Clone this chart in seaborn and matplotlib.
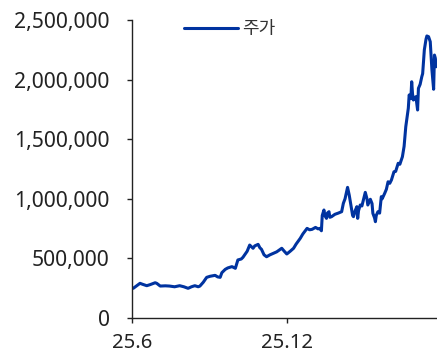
import matplotlib
matplotlib.use("Agg")
import matplotlib.pyplot as plt
from matplotlib.ticker import FuncFormatter
import seaborn as sns
import pandas as pd

dates = ["2025-06-02","2025-06-05","2025-06-10","2025-06-13","2025-06-18","2025-06-22","2025-06-28","2025-06-30",
         "2025-07-04","2025-07-10","2025-07-15","2025-07-21","2025-07-27","2025-08-01","2025-08-06","2025-08-10",
         "2025-08-14","2025-08-18","2025-08-20","2025-08-24","2025-08-28","2025-09-01","2025-09-07","2025-09-10",
         "2025-09-13","2025-09-15","2025-09-19","2025-09-22","2025-09-27","2025-10-01","2025-10-04","2025-10-08",
         "2025-10-10","2025-10-15","2025-10-18","2025-10-22","2025-10-24","2025-10-28","2025-10-30","2025-11-01",
         "2025-11-04","2025-11-07","2025-11-11","2025-11-15","2025-11-19","2025-11-25","2025-11-28","2025-12-01",
         "2025-12-05","2025-12-09","2025-12-12","2025-12-17","2025-12-20","2025-12-25","2025-12-28","2025-12-31",
         "2026-01-04","2026-01-07","2026-01-09","2026-01-11","2026-01-12","2026-01-14","2026-01-15","2026-01-17",
         "2026-01-18","2026-01-20","2026-01-21","2026-01-23","2026-01-27","2026-01-31","2026-02-04","2026-02-06",
         "2026-02-08","2026-02-11","2026-02-13","2026-02-16","2026-02-17","2026-02-18","2026-02-20","2026-02-22",
         "2026-02-23","2026-02-24","2026-02-26","2026-02-28","2026-03-04","2026-03-06","2026-03-07","2026-03-10",
         "2026-03-12","2026-03-13","2026-03-15","2026-03-16","2026-03-17","2026-03-19","2026-03-21","2026-03-23",
         "2026-03-24","2026-03-27","2026-03-29","2026-03-31","2026-04-02","2026-04-04","2026-04-07","2026-04-09",
         "2026-04-12","2026-04-14","2026-04-17","2026-04-19","2026-04-21","2026-04-24","2026-04-25","2026-04-27",
         "2026-04-28","2026-04-29","2026-04-30","2026-05-02","2026-05-03","2026-05-05","2026-05-06","2026-05-08",
         "2026-05-10","2026-05-11","2026-05-13","2026-05-15","2026-05-16","2026-05-18","2026-05-20","2026-05-21",
         "2026-05-22","2026-05-24","2026-05-25","2026-05-26","2026-05-27"]
prices = [249000,265000,291000,283000,271000,280000,296000,290000,
          268000,270000,268000,262000,271000,262000,249000,262000,
          271000,262000,268000,300000,341000,350000,358000,345000,
          341000,380000,408000,420000,431000,417000,487000,495000,
          509000,560000,612000,585000,605000,618000,590000,576000,
          530000,514000,530000,543000,555000,585000,560000,537000,
          560000,585000,620000,669000,705000,752000,740000,744000,
          760000,748000,752000,732000,860000,906000,860000,836000,
          880000,892000,845000,850000,870000,880000,892000,962000,
          1000000,1096000,1030000,906000,860000,850000,900000,934000,
          836000,900000,948000,940000,1054000,1000000,948000,996000,
          960000,878000,840000,808000,860000,892000,880000,1018000,
          1000000,1046000,1080000,1143000,1130000,1158000,1227000,1230000,
          1298000,1290000,1353000,1440000,1605000,1760000,1871000,1840000,
          1982000,1880000,1829000,1850000,1857000,1745000,1927000,1960000,
          2025000,2050000,2250000,2340000,2366000,2360000,2318000,2200000,
          2080000,1919000,2206000,2180000,2108000]
series_name = "주가"
x_ticks = ["2025-06-01", "2025-12-01"]
x_tick_labels = ["25.6", "25.12"]
y_ticks = [0, 500000, 1000000, 1500000, 2000000, 2500000]

df = pd.DataFrame({"date": pd.to_datetime(dates), "price": prices, "series": series_name})

sns.set_theme(style="white")
plt.rcParams["font.family"] = ["Noto Sans", "Noto Sans CJK KR", "DejaVu Sans"]

fig = plt.figure(figsize=(4.37, 3.51), dpi=100)
ax = fig.add_axes([0.303, 0.094, 0.697, 0.849])

sns.lineplot(data=df, x="date", y="price", hue="series", palette=["#0033a0"],
             linewidth=2.2, ax=ax)

ax.set_xlim(pd.Timestamp("2025-06-01"), pd.Timestamp("2026-05-28"))
ax.set_ylim(0, 2500000)
ax.set_xticks(pd.to_datetime(x_ticks))
ax.set_xticklabels(x_tick_labels)
ax.set_yticks(y_ticks)
ax.yaxis.set_major_formatter(FuncFormatter(lambda v, p: f"{int(v):,}"))
ax.set_xlabel("")
ax.set_ylabel("")

for s in ["top", "right"]:
    ax.spines[s].set_visible(False)
for s in ["left", "bottom"]:
    ax.spines[s].set_color("#222222")
    ax.spines[s].set_linewidth(1.0)

ax.tick_params(axis="y", which="major", direction="out", length=3.8, width=1,
               color="#222222", labelsize=15.2, labelcolor="#222222", pad=12.5,
               left=True)
ax.tick_params(axis="x", which="major", direction="out", length=3.8, width=1,
               color="#222222", labelsize=14.6, labelcolor="#222222", pad=7.3,
               bottom=True)

leg = ax.legend(loc="upper left", bbox_to_anchor=(0.147, 1.024), frameon=False,
                fontsize=13, handlelength=2.95, handletextpad=0.25, borderaxespad=0)
for t in leg.get_texts():
    t.set_color("#333333")
    t.set_fontfamily(["Noto Sans CJK KR", "DejaVu Sans"])

fig.savefig("out.png", dpi=100)
